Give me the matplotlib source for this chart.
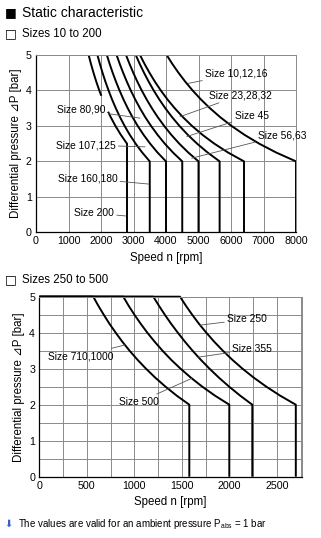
import numpy as np
import matplotlib
matplotlib.use("Agg")
import matplotlib.pyplot as plt

plt.rcParams['font.family'] = ['Liberation Sans', 'DejaVu Sans']
plt.rcParams['mathtext.fontset'] = 'custom'
plt.rcParams['mathtext.rm'] = 'Liberation Sans'
plt.rcParams['mathtext.it'] = 'Liberation Sans'

# ---- data: sizes 10 to 200 (speed in rpm read along pressure in bar)
p_top = [5, 4.75, 4.5, 4.25, 4, 3.75, 3.5, 3.25, 3, 2.75, 2.5, 2.25, 2, 0]
n_10_16 = [4020, 4194, 4383, 4591, 4819, 5071, 5351, 5664, 6015, 6413, 6867, 7390, 8000, 8000]
n_23_32 = [3200, 3339, 3491, 3657, 3840, 4042, 4267, 4518, 4800, 5120, 5486, 5908, 6400, 6400]
n_45 = [3070, 3191, 3323, 3466, 3621, 3791, 3978, 4185, 4414, 4669, 4956, 5280, 5650, 5650]
n_56_63 = [2770, 2877, 2993, 3117, 3253, 3402, 3565, 3744, 3943, 4162, 4408, 4685, 5000, 5000]
n_80_90 = [2480, 2576, 2681, 2794, 2916, 3051, 3198, 3359, 3540, 3739, 3962, 4215, 4500, 4500]
n_107_125 = [2180, 2266, 2359, 2460, 2570, 2690, 2822, 2968, 3129, 3309, 3512, 3739, 4000, 4000]
n_160_180 = [1890, 1965, 2047, 2135, 2233, 2338, 2455, 2583, 2726, 2885, 3065, 3268, 3500, 3500]
# size 200 is drawn in two pieces (gap behind the leader line)
p_200a = [5, 4.75, 4.5, 4.25, 4, 3.85]
n_200a = [1620, 1691, 1769, 1854, 1948, 2010]
p_200b = [3.4, 3.25, 3, 2.75, 2.5, 0]
n_200b = [2218, 2298, 2444, 2610, 2800, 2800]

# ---- data: sizes 250 to 500
p_bot = [5, 5, 4.75, 4.5, 4.25, 4, 3.75, 3.5, 3.25, 3, 2.75, 2.5, 2.25, 2, 0]
n_710_1000 = [0, 568, 621, 678, 738, 804, 874, 950, 1033, 1123, 1221, 1329, 1447, 1579, 1579]
n_500 = [0, 884, 940, 1001, 1067, 1137, 1214, 1297, 1387, 1487, 1596, 1716, 1850, 2000, 2000]
n_355 = [0, 1200, 1259, 1321, 1387, 1458, 1533, 1613, 1699, 1792, 1891, 1999, 2115, 2242, 2242]
n_250 = [0, 1481, 1543, 1609, 1680, 1758, 1841, 1932, 2031, 2139, 2258, 2390, 2536, 2700, 2700]

W, H = 321, 538
fig = plt.figure(figsize=(W/100, H/100), dpi=100)

lw_curve = 1.4
grid_c = '#8a8a8a'
fs_tick = 7.7
fs_axis = 8.3
fs_lab = 7.4

def style_axes(ax):
    ax.spines['left'].set_color('k')
    ax.spines['bottom'].set_color('k')
    ax.spines['left'].set_linewidth(0.9)
    ax.spines['bottom'].set_linewidth(0.9)
    ax.spines['top'].set_color(grid_c)
    ax.spines['right'].set_color(grid_c)
    ax.spines['top'].set_linewidth(0.7)
    ax.spines['right'].set_linewidth(0.7)
    ax.tick_params(length=0, labelsize=fs_tick, pad=3)
    ax.set_ylabel('Differential pressure \u22BFP [bar]', fontsize=fs_axis, labelpad=3)
    ax.set_xlabel('Speed n [rpm]', fontsize=fs_axis, labelpad=4)

lead = dict(arrowstyle='-', color='#555555', lw=0.6, shrinkA=0, shrinkB=0)

# ---------------- top chart
ax1 = fig.add_axes([36/W, 1-232.3/H, 260/W, 177.3/H])
ax1.set_xlim(0, 8000)
ax1.set_ylim(0, 5)
ax1.set_xticks(np.arange(0, 8001, 1000))
ax1.set_yticks(np.arange(0, 6, 1))
ax1.grid(True, color=grid_c, lw=0.7)
ax1.set_axisbelow(True)
style_axes(ax1)

for n in [n_10_16, n_23_32, n_45, n_56_63, n_80_90, n_107_125, n_160_180]:
    ax1.plot(n, p_top, color='k', lw=lw_curve, solid_capstyle='butt')
ax1.plot(n_200a, p_200a, color='k', lw=lw_curve, solid_capstyle='butt')
ax1.plot(n_200b, p_200b, color='k', lw=lw_curve, solid_capstyle='butt')

# labels on the right
ax1.annotate('Size 10,12,16', xy=(4686, 4.2), xytext=(5200, 4.47), fontsize=fs_lab,
             va='center', ha='left', arrowprops=lead)
ax1.annotate('Size 23,28,32', xy=(4431, 3.26), xytext=(5330, 3.87), fontsize=fs_lab,
             va='center', ha='left', arrowprops=lead)
ax1.annotate('Size 45', xy=(4637, 2.70), xytext=(6110, 3.29), fontsize=fs_lab,
             va='center', ha='left', arrowprops=lead)
ax1.annotate('Size 56,63', xy=(4790, 2.09), xytext=(6840, 2.74), fontsize=fs_lab,
             va='center', ha='left', arrowprops=lead)
# labels on the left
ax1.annotate('Size 80,90', xy=(3200, 3.22), xytext=(2140, 3.45), fontsize=fs_lab,
             va='center', ha='right', arrowprops=lead)
ax1.annotate('Size 107,125', xy=(3354, 2.41), xytext=(2450, 2.46), fontsize=fs_lab,
             va='center', ha='right', arrowprops=lead)
ax1.annotate('Size 160,180', xy=(3477, 1.36), xytext=(2500, 1.52), fontsize=fs_lab,
             va='center', ha='right', arrowprops=lead)
ax1.annotate('Size 200', xy=(2769, 0.46), xytext=(2400, 0.54), fontsize=fs_lab,
             va='center', ha='right', arrowprops=lead)

# ---------------- bottom chart
ax2 = fig.add_axes([39.3/W, 1-476.7/H, 262.4/W, 180/H])
ax2.set_xlim(0, 2762)
ax2.set_ylim(0, 5)
ax2.set_xticks(np.arange(0, 2501, 500))
ax2.set_yticks(np.arange(0, 6, 1))
ax2.set_xticks(np.arange(0, 2762, 250), minor=True)
ax2.set_yticks(np.arange(0, 5.01, 0.5), minor=True)
ax2.grid(True, which='both', color=grid_c, lw=0.7)
ax2.tick_params(which='minor', length=0)
ax2.set_axisbelow(True)
style_axes(ax2)

for n in [n_710_1000, n_500, n_355, n_250]:
    ax2.plot(n, p_bot, color='k', lw=lw_curve, solid_capstyle='butt', clip_on=False)

ax2.annotate('Size 250', xy=(1692, 4.21), xytext=(1976, 4.37), fontsize=fs_lab,
             va='center', ha='left', arrowprops=lead)
ax2.annotate('Size 355', xy=(1674, 3.32), xytext=(2030, 3.54), fontsize=fs_lab,
             va='center', ha='left', arrowprops=lead)
ax2.annotate('Size 500', xy=(1604, 2.73), xytext=(1263, 2.08), fontsize=fs_lab,
             va='center', ha='right', arrowprops=lead)
ax2.annotate('Size 710,1000', xy=(902, 3.66), xytext=(779, 3.35), fontsize=fs_lab,
             va='center', ha='right', arrowprops=lead)

# ---------------- headings and footnote
fig.text(5/W, 1-13/H, '\u25A0', fontsize=9, family='DejaVu Sans', va='center')
fig.text(22/W, 1-13/H, 'Static characteristic', fontsize=10, va='center')
fig.text(5/W, 1-34/H, '\u25A1', fontsize=9, family='DejaVu Sans', va='center')
fig.text(22/W, 1-34/H, 'Sizes 10 to 200', fontsize=8.3, va='center')
fig.text(5/W, 1-280/H, '\u25A1', fontsize=9, family='DejaVu Sans', va='center')
fig.text(22/W, 1-280/H, 'Sizes 250 to 500', fontsize=8.3, va='center')
fig.text(4/W, 1-524/H, '\u2B07', fontsize=7, family='DejaVu Sans', color='#3a5fc8', va='center')
fig.text(18/W, 1-524/H, 'The values are valid for an ambient pressure P$_{\\rm abs}$ = 1 bar',
         fontsize=7.0, va='center')

fig.savefig('out.png', dpi=100)
